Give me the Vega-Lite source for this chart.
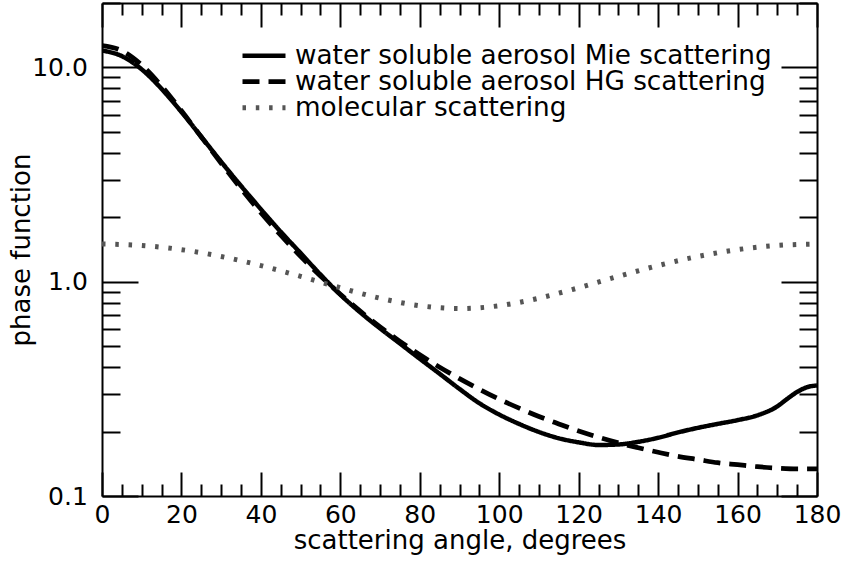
{
  "$schema": "https://vega.github.io/schema/vega-lite/v6.json",
  "width": 715,
  "height": 493,
  "autosize": {"type": "none"},
  "padding": {"left": 102, "top": 3, "right": 28, "bottom": 73},
  "config": {
    "view": {"stroke": null},
    "font": "DejaVu Sans",
    "axis": {
      "grid": false,
      "domainColor": "#000000",
      "domainWidth": 2,
      "tickColor": "#000000",
      "tickWidth": 2,
      "labelColor": "#000000",
      "titleColor": "#000000",
      "labelFont": "DejaVu Sans",
      "titleFont": "DejaVu Sans",
      "labelFontSize": 25,
      "titleFontSize": 26,
      "titleFontWeight": "normal",
      "labelAngle": 0
    },
    "legend": {
      "title": null,
      "orient": "none",
      "legendX": 138,
      "legendY": 40.7,
      "symbolType": "stroke",
      "symbolSize": 1849,
      "labelFontSize": 26.3,
      "labelFont": "DejaVu Sans",
      "labelColor": "#000000",
      "labelLimit": 1000,
      "rowPadding": -3,
      "clipHeight": 24,
      "labelOffset": 7,
      "padding": 0
    }
  },
  "datasets": {
    "curves": [
      {"series": "water soluble aerosol Mie scattering", "angle": 0, "value": 12.0},
      {"series": "water soluble aerosol Mie scattering", "angle": 5, "value": 11.3},
      {"series": "water soluble aerosol Mie scattering", "angle": 10, "value": 9.8},
      {"series": "water soluble aerosol Mie scattering", "angle": 15, "value": 7.95},
      {"series": "water soluble aerosol Mie scattering", "angle": 20, "value": 6.2},
      {"series": "water soluble aerosol Mie scattering", "angle": 25, "value": 4.75},
      {"series": "water soluble aerosol Mie scattering", "angle": 30, "value": 3.63},
      {"series": "water soluble aerosol Mie scattering", "angle": 35, "value": 2.8},
      {"series": "water soluble aerosol Mie scattering", "angle": 40, "value": 2.18},
      {"series": "water soluble aerosol Mie scattering", "angle": 45, "value": 1.71},
      {"series": "water soluble aerosol Mie scattering", "angle": 50, "value": 1.36},
      {"series": "water soluble aerosol Mie scattering", "angle": 55, "value": 1.08},
      {"series": "water soluble aerosol Mie scattering", "angle": 60, "value": 0.87},
      {"series": "water soluble aerosol Mie scattering", "angle": 65, "value": 0.72},
      {"series": "water soluble aerosol Mie scattering", "angle": 70, "value": 0.606},
      {"series": "water soluble aerosol Mie scattering", "angle": 75, "value": 0.515},
      {"series": "water soluble aerosol Mie scattering", "angle": 80, "value": 0.437},
      {"series": "water soluble aerosol Mie scattering", "angle": 85, "value": 0.372},
      {"series": "water soluble aerosol Mie scattering", "angle": 90, "value": 0.316},
      {"series": "water soluble aerosol Mie scattering", "angle": 95, "value": 0.271},
      {"series": "water soluble aerosol Mie scattering", "angle": 100, "value": 0.24},
      {"series": "water soluble aerosol Mie scattering", "angle": 105, "value": 0.217},
      {"series": "water soluble aerosol Mie scattering", "angle": 110, "value": 0.199},
      {"series": "water soluble aerosol Mie scattering", "angle": 115, "value": 0.186},
      {"series": "water soluble aerosol Mie scattering", "angle": 120, "value": 0.178},
      {"series": "water soluble aerosol Mie scattering", "angle": 125, "value": 0.173},
      {"series": "water soluble aerosol Mie scattering", "angle": 130, "value": 0.174},
      {"series": "water soluble aerosol Mie scattering", "angle": 135, "value": 0.179},
      {"series": "water soluble aerosol Mie scattering", "angle": 140, "value": 0.187},
      {"series": "water soluble aerosol Mie scattering", "angle": 145, "value": 0.198},
      {"series": "water soluble aerosol Mie scattering", "angle": 150, "value": 0.208},
      {"series": "water soluble aerosol Mie scattering", "angle": 155, "value": 0.217},
      {"series": "water soluble aerosol Mie scattering", "angle": 160, "value": 0.226},
      {"series": "water soluble aerosol Mie scattering", "angle": 165, "value": 0.238},
      {"series": "water soluble aerosol Mie scattering", "angle": 170, "value": 0.262},
      {"series": "water soluble aerosol Mie scattering", "angle": 172.5, "value": 0.284},
      {"series": "water soluble aerosol Mie scattering", "angle": 175, "value": 0.306},
      {"series": "water soluble aerosol Mie scattering", "angle": 177.5, "value": 0.322},
      {"series": "water soluble aerosol Mie scattering", "angle": 180, "value": 0.328},
      {"series": "water soluble aerosol HG scattering", "angle": 0, "value": 12.65},
      {"series": "water soluble aerosol HG scattering", "angle": 5, "value": 11.97},
      {"series": "water soluble aerosol HG scattering", "angle": 10, "value": 10.26},
      {"series": "water soluble aerosol HG scattering", "angle": 15, "value": 8.19},
      {"series": "water soluble aerosol HG scattering", "angle": 20, "value": 6.28},
      {"series": "water soluble aerosol HG scattering", "angle": 25, "value": 4.74},
      {"series": "water soluble aerosol HG scattering", "angle": 30, "value": 3.57},
      {"series": "water soluble aerosol HG scattering", "angle": 35, "value": 2.72},
      {"series": "water soluble aerosol HG scattering", "angle": 40, "value": 2.1},
      {"series": "water soluble aerosol HG scattering", "angle": 45, "value": 1.648},
      {"series": "water soluble aerosol HG scattering", "angle": 50, "value": 1.313},
      {"series": "water soluble aerosol HG scattering", "angle": 55, "value": 1.064},
      {"series": "water soluble aerosol HG scattering", "angle": 60, "value": 0.875},
      {"series": "water soluble aerosol HG scattering", "angle": 65, "value": 0.729},
      {"series": "water soluble aerosol HG scattering", "angle": 70, "value": 0.616},
      {"series": "water soluble aerosol HG scattering", "angle": 75, "value": 0.527},
      {"series": "water soluble aerosol HG scattering", "angle": 80, "value": 0.456},
      {"series": "water soluble aerosol HG scattering", "angle": 85, "value": 0.399},
      {"series": "water soluble aerosol HG scattering", "angle": 90, "value": 0.353},
      {"series": "water soluble aerosol HG scattering", "angle": 95, "value": 0.315},
      {"series": "water soluble aerosol HG scattering", "angle": 100, "value": 0.283},
      {"series": "water soluble aerosol HG scattering", "angle": 105, "value": 0.257},
      {"series": "water soluble aerosol HG scattering", "angle": 110, "value": 0.235},
      {"series": "water soluble aerosol HG scattering", "angle": 115, "value": 0.217},
      {"series": "water soluble aerosol HG scattering", "angle": 120, "value": 0.201},
      {"series": "water soluble aerosol HG scattering", "angle": 125, "value": 0.188},
      {"series": "water soluble aerosol HG scattering", "angle": 130, "value": 0.177},
      {"series": "water soluble aerosol HG scattering", "angle": 135, "value": 0.168},
      {"series": "water soluble aerosol HG scattering", "angle": 140, "value": 0.16},
      {"series": "water soluble aerosol HG scattering", "angle": 145, "value": 0.153},
      {"series": "water soluble aerosol HG scattering", "angle": 150, "value": 0.148},
      {"series": "water soluble aerosol HG scattering", "angle": 155, "value": 0.143},
      {"series": "water soluble aerosol HG scattering", "angle": 160, "value": 0.14},
      {"series": "water soluble aerosol HG scattering", "angle": 165, "value": 0.137},
      {"series": "water soluble aerosol HG scattering", "angle": 170, "value": 0.135},
      {"series": "water soluble aerosol HG scattering", "angle": 175, "value": 0.134},
      {"series": "water soluble aerosol HG scattering", "angle": 180, "value": 0.134},
      {"series": "molecular scattering", "angle": 0, "value": 1.5},
      {"series": "molecular scattering", "angle": 10, "value": 1.477},
      {"series": "molecular scattering", "angle": 20, "value": 1.412},
      {"series": "molecular scattering", "angle": 30, "value": 1.3125},
      {"series": "molecular scattering", "angle": 40, "value": 1.19},
      {"series": "molecular scattering", "angle": 50, "value": 1.06},
      {"series": "molecular scattering", "angle": 60, "value": 0.9375},
      {"series": "molecular scattering", "angle": 70, "value": 0.838},
      {"series": "molecular scattering", "angle": 80, "value": 0.773},
      {"series": "molecular scattering", "angle": 90, "value": 0.75},
      {"series": "molecular scattering", "angle": 100, "value": 0.773},
      {"series": "molecular scattering", "angle": 110, "value": 0.838},
      {"series": "molecular scattering", "angle": 120, "value": 0.9375},
      {"series": "molecular scattering", "angle": 130, "value": 1.06},
      {"series": "molecular scattering", "angle": 140, "value": 1.19},
      {"series": "molecular scattering", "angle": 150, "value": 1.3125},
      {"series": "molecular scattering", "angle": 160, "value": 1.412},
      {"series": "molecular scattering", "angle": 170, "value": 1.477},
      {"series": "molecular scattering", "angle": 180, "value": 1.5}
    ]
  },
  "data": {"name": "curves"},
  "resolve": {"scale": {"x": "independent", "y": "independent"}},
  "layer": [
    {
      "mark": {"type": "line", "interpolate": "monotone", "clip": true},
      "encoding": {
        "x": {
          "field": "angle", "type": "quantitative",
          "scale": {"domain": [0, 180], "nice": false, "zero": false},
          "axis": {
            "orient": "bottom",
            "values": [0, 20, 40, 60, 80, 100, 120, 140, 160, 180],
            "tickSize": -24,
            "labelPadding": 30,
            "labelFlush": false,
            "labelOverlap": false,
            "title": "scattering angle, degrees",
            "titlePadding": 0
          }
        },
        "y": {
          "field": "value", "type": "quantitative",
          "scale": {"type": "log", "domain": [0.1, 20], "nice": false},
          "axis": {
            "orient": "left",
            "values": [0.1, 1, 10],
            "format": ".1f",
            "tickSize": -36,
            "labelPadding": 50.7,
            "labelOverlap": false,
            "title": "phase function",
            "titlePadding": -3
          }
        },
        "color": {
          "field": "series", "type": "nominal",
          "scale": {
            "domain": ["water soluble aerosol Mie scattering", "water soluble aerosol HG scattering", "molecular scattering"],
            "range": ["#000000", "#000000", "#555555"]
          }
        },
        "strokeDash": {
          "field": "series", "type": "nominal",
          "scale": {
            "domain": ["water soluble aerosol Mie scattering", "water soluble aerosol HG scattering", "molecular scattering"],
            "range": [[1, 0], [17, 9], [3.5, 9.8]]
          }
        },
        "strokeWidth": {
          "field": "series", "type": "nominal",
          "scale": {
            "domain": ["water soluble aerosol Mie scattering", "water soluble aerosol HG scattering", "molecular scattering"],
            "range": [4.5, 5, 3.5]
          }
        }
      }
    },
    {
      "mark": {"type": "line", "strokeOpacity": 0},
      "encoding": {
        "x": {
          "field": "angle", "type": "quantitative",
          "scale": {"domain": [0, 180], "nice": false, "zero": false},
          "axis": {"orient": "bottom", "values": [5, 10, 15, 25, 30, 35, 45, 50, 55, 65, 70, 75, 85, 90, 95, 105, 110, 115, 125, 130, 135, 145, 150, 155, 165, 170, 175], "tickSize": -12, "labels": false, "title": null, "domain": false}
        },
        "y": {
          "field": "value", "type": "quantitative",
          "scale": {"type": "log", "domain": [0.1, 20], "nice": false},
          "axis": {"orient": "left", "values": [0.2, 0.3, 0.4, 0.5, 0.6, 0.7, 0.8, 0.9, 2, 3, 4, 5, 6, 7, 8, 9, 20], "tickSize": -18, "labels": false, "title": null, "domain": false}
        }
      }
    },
    {
      "mark": {"type": "line", "strokeOpacity": 0},
      "encoding": {
        "x": {
          "field": "angle", "type": "quantitative",
          "scale": {"domain": [0, 180], "nice": false, "zero": false},
          "axis": {"orient": "top", "values": [0, 20, 40, 60, 80, 100, 120, 140, 160, 180], "tickSize": -24, "labels": false, "title": null}
        },
        "y": {
          "field": "value", "type": "quantitative",
          "scale": {"type": "log", "domain": [0.1, 20], "nice": false},
          "axis": {"orient": "right", "values": [0.1, 1, 10], "tickSize": -36, "labels": false, "title": null}
        }
      }
    },
    {
      "mark": {"type": "line", "strokeOpacity": 0},
      "encoding": {
        "x": {
          "field": "angle", "type": "quantitative",
          "scale": {"domain": [0, 180], "nice": false, "zero": false},
          "axis": {"orient": "top", "values": [5, 10, 15, 25, 30, 35, 45, 50, 55, 65, 70, 75, 85, 90, 95, 105, 110, 115, 125, 130, 135, 145, 150, 155, 165, 170, 175], "tickSize": -12, "labels": false, "title": null, "domain": false}
        },
        "y": {
          "field": "value", "type": "quantitative",
          "scale": {"type": "log", "domain": [0.1, 20], "nice": false},
          "axis": {"orient": "right", "values": [0.2, 0.3, 0.4, 0.5, 0.6, 0.7, 0.8, 0.9, 2, 3, 4, 5, 6, 7, 8, 9, 20], "tickSize": -18, "labels": false, "title": null, "domain": false}
        }
      }
    }
  ]
}
